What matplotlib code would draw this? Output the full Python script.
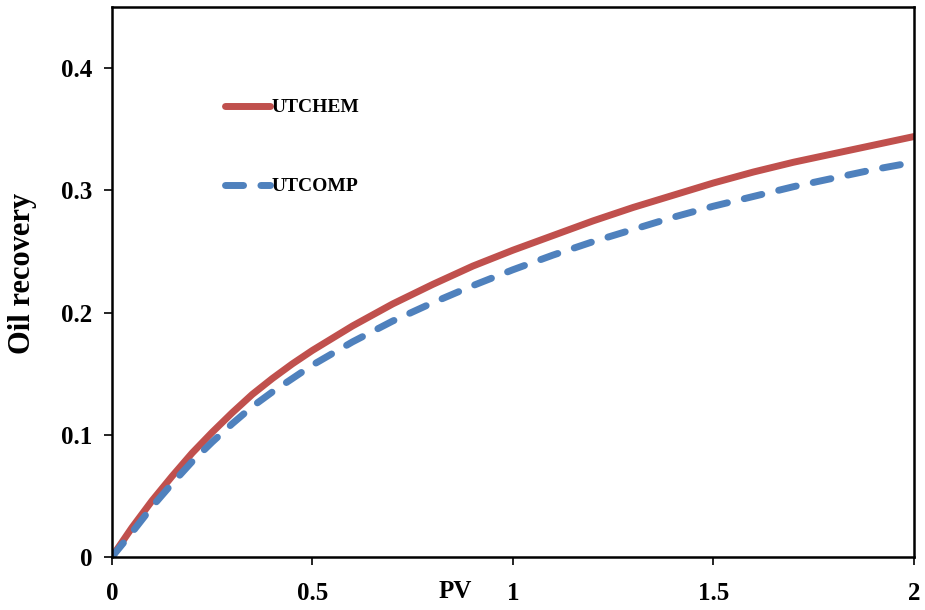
import matplotlib.pyplot as plt

# oil recovery vs injected pore volumes
pv = [0, 0.05, 0.1, 0.15, 0.2, 0.25, 0.3, 0.35, 0.4, 0.45, 0.5, 0.6, 0.7, 0.8, 0.9,
      1.0, 1.1, 1.2, 1.3, 1.4, 1.5, 1.6, 1.7, 1.8, 1.9, 2.0]
utchem = [0, 0.024, 0.046, 0.066, 0.085, 0.102, 0.118, 0.133, 0.146, 0.158, 0.169,
          0.189, 0.207, 0.223, 0.238, 0.251, 0.263, 0.275, 0.286, 0.296, 0.306,
          0.315, 0.323, 0.330, 0.337, 0.344]
utcomp = [0, 0.020, 0.041, 0.060, 0.078, 0.094, 0.109, 0.123, 0.135, 0.146, 0.157,
          0.176, 0.193, 0.208, 0.222, 0.235, 0.247, 0.258, 0.268, 0.278, 0.287,
          0.295, 0.303, 0.310, 0.317, 0.323]

plt.rcParams['font.family'] = ['Liberation Serif', 'DejaVu Serif']
plt.rcParams['font.weight'] = 'bold'

fig = plt.figure(figsize=(9.25, 6.1), dpi=100)
ax = fig.add_axes([0.121, 0.087, 0.867, 0.9015])

ax.plot(pv, utchem, color='#c0504d', lw=5, label='UTCHEM',
        solid_capstyle='round', solid_joinstyle='round')
ax.plot(pv, utcomp, color='#4f81bd', lw=5, ls=(0, (2.6, 2.5)), label='UTCOMP',
        dash_capstyle='round', dash_joinstyle='round')

ax.set_xlim(0, 2)
ax.set_ylim(0, 0.45)
ax.set_xticks([0, 0.5, 1, 1.5, 2])
ax.set_xticklabels(['0', '0.5', '1', '1.5', '2'])
ax.set_yticks([0, 0.1, 0.2, 0.3, 0.4])
ax.set_yticklabels(['0', '0.1', '0.2', '0.3', '0.4'])
ax.tick_params(direction='out', length=6, width=1.2, labelsize=18)
ax.tick_params(axis='x', pad=12)
ax.tick_params(axis='y', pad=8)
for s in ax.spines.values():
    s.set_linewidth(1.8)

ax.set_ylabel('Oil recovery', fontsize=22, fontweight='bold')
ax.yaxis.set_label_coords(-0.094, 0.516)
ax.text(0.428, -0.042, 'PV', transform=ax.transAxes, fontsize=18, fontweight='bold',
        ha='center', va='top')

ax.legend(loc='upper left', bbox_to_anchor=(0.141, 0.833), frameon=False,
          borderpad=0, borderaxespad=0,
          handlelength=2.3, handletextpad=0.1, labelspacing=3.15,
          prop={'size': 14, 'weight': 'bold'})

fig.savefig('out.png', dpi=100)
